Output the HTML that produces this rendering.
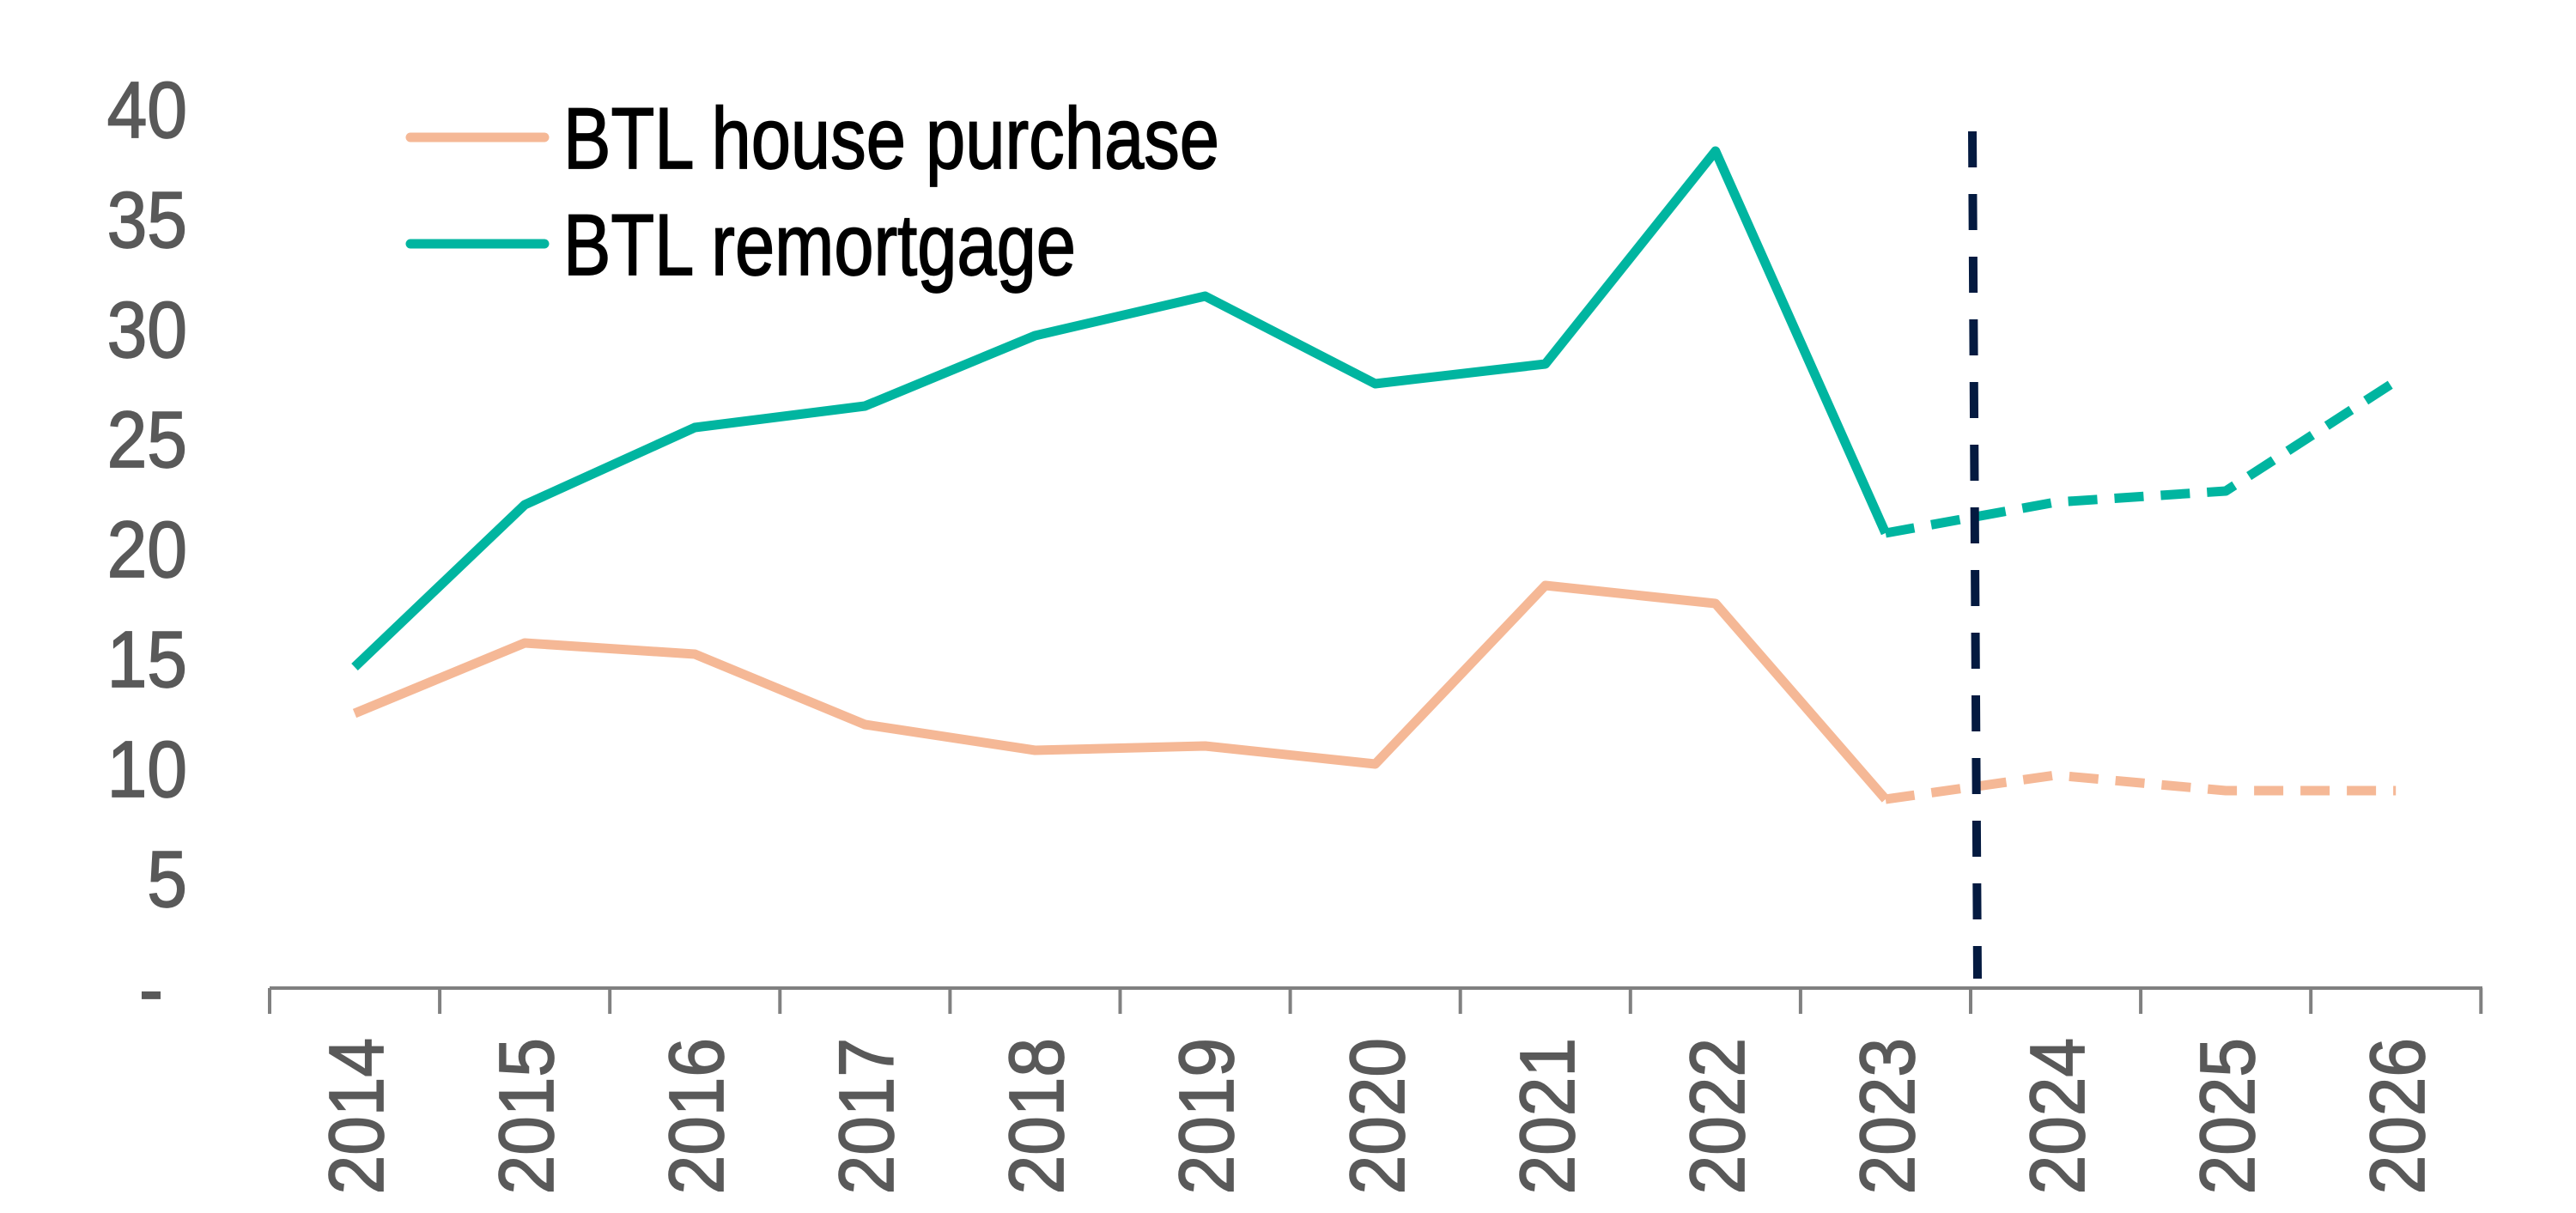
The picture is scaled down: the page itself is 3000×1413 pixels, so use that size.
<!DOCTYPE html>
<html><head><meta charset="utf-8"><style>
html,body{margin:0;padding:0;background:#fff;}
svg{display:block;}
</style></head><body>
<svg width="3000" height="1413" viewBox="0 0 3000 1413" xmlns="http://www.w3.org/2000/svg" font-family="'Liberation Sans', Arial, sans-serif">
<rect width="3000" height="1413" fill="#fff"/>
<g fill="#595959" stroke="#595959" stroke-width="1.5" font-size="84" text-anchor="end">
<text transform="translate(218,160) scale(1,1.1)">40</text>
<text transform="translate(218,288) scale(1,1.1)">35</text>
<text transform="translate(218,416) scale(1,1.1)">30</text>
<text transform="translate(218,544) scale(1,1.1)">25</text>
<text transform="translate(218,672) scale(1,1.1)">20</text>
<text transform="translate(218,800) scale(1,1.1)">15</text>
<text transform="translate(218,928) scale(1,1.1)">10</text>
<text transform="translate(218,1056) scale(1,1.1)">5</text>
<text transform="translate(190,1184) scale(1,1.1)">-</text>
</g>
<g stroke="#808080" stroke-width="4" fill="none">
<line x1="314" y1="1151" x2="2891" y2="1151"/>
<path d="M314 1151v30M512.1 1151v30M710.2 1151v30M908.3 1151v30M1106.4 1151v30M1304.5 1151v30M1502.6 1151v30M1700.7 1151v30M1898.8 1151v30M2096.9 1151v30M2295 1151v30M2493.1 1151v30M2691.2 1151v30M2889.3 1151v30"/>
</g>
<g fill="#595959" stroke="#595959" stroke-width="1.5" font-size="82" text-anchor="end">
<text transform="translate(446,1209) rotate(-90) scale(1,1.1)">2014</text>
<text transform="translate(644,1209) rotate(-90) scale(1,1.1)">2015</text>
<text transform="translate(842,1209) rotate(-90) scale(1,1.1)">2016</text>
<text transform="translate(1040,1209) rotate(-90) scale(1,1.1)">2017</text>
<text transform="translate(1238,1209) rotate(-90) scale(1,1.1)">2018</text>
<text transform="translate(1436,1209) rotate(-90) scale(1,1.1)">2019</text>
<text transform="translate(1635,1209) rotate(-90) scale(1,1.1)">2020</text>
<text transform="translate(1833,1209) rotate(-90) scale(1,1.1)">2021</text>
<text transform="translate(2031,1209) rotate(-90) scale(1,1.1)">2022</text>
<text transform="translate(2229,1209) rotate(-90) scale(1,1.1)">2023</text>
<text transform="translate(2427,1209) rotate(-90) scale(1,1.1)">2024</text>
<text transform="translate(2625,1209) rotate(-90) scale(1,1.1)">2025</text>
<text transform="translate(2823,1209) rotate(-90) scale(1,1.1)">2026</text>
</g>
<g fill="none" stroke-width="11" stroke-linejoin="round">
<polyline stroke="#00b5a0" points="413,777 611.1,588 809.2,498 1007.3,473 1205.4,391 1403.5,345 1601.6,447 1799.7,424 1997.8,176 2195.9,621"/>
<polyline stroke="#00b5a0" stroke-dasharray="34,20" points="2195.9,621 2394,585 2592.1,572 2790.2,444"/>
<polyline stroke="#f5b896" points="413,831 611.1,749 809.2,762 1007.3,844 1205.4,874 1403.5,869 1601.6,890 1799.7,682 1997.8,703 2195.9,931"/>
<polyline stroke="#f5b896" stroke-dasharray="34,20" points="2195.9,931 2394,903 2592.1,921 2790.2,921"/>
</g>
<line x1="2297" y1="153" x2="2303" y2="1140" stroke="#041a40" stroke-width="10" stroke-dasharray="42,31"/>
<line x1="478" y1="160" x2="634" y2="160" stroke="#f5b896" stroke-width="11" stroke-linecap="round"/>
<line x1="478" y1="284" x2="634" y2="284" stroke="#00b5a0" stroke-width="11" stroke-linecap="round"/>
<g fill="#000" stroke="#000" stroke-width="1.5" font-size="92">
<text transform="translate(656,196) scale(1,1.1)" textLength="764" lengthAdjust="spacingAndGlyphs">BTL house purchase</text>
<text transform="translate(656,320) scale(1,1.1)" textLength="597" lengthAdjust="spacingAndGlyphs">BTL remortgage</text>
</g>
</svg>
</body></html>
